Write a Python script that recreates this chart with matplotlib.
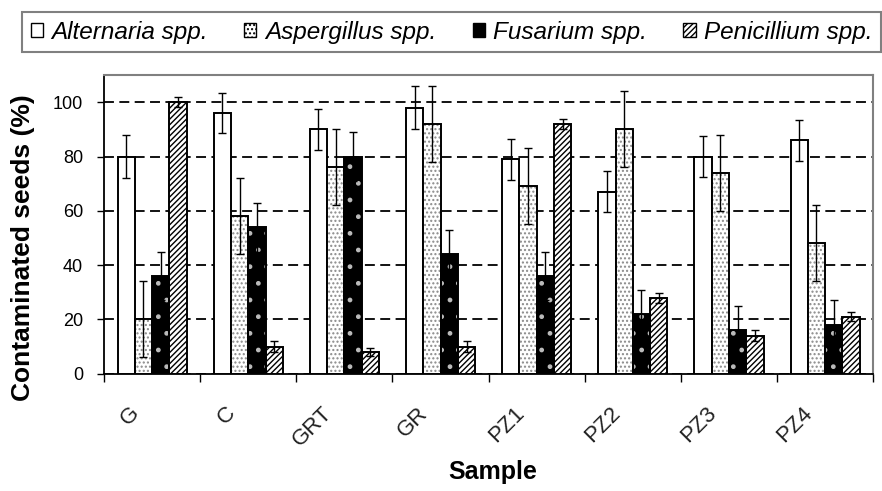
import matplotlib
matplotlib.use("Agg")
import matplotlib.pyplot as plt
import matplotlib.transforms as mtransforms
import numpy as np
from matplotlib.patches import Patch

samples = ["G", "C", "GRT", "GR", "PZ1", "PZ2", "PZ3", "PZ4"]
series = ["Alternaria spp.", "Aspergillus spp.", "Fusarium spp.", "Penicillium spp."]

alternaria = [80, 96, 90, 98, 79, 67, 80, 86]
alternaria_err = [8, 7.5, 7.5, 8, 7.5, 7.5, 7.5, 7.5]
aspergillus = [20, 58, 76, 92, 69, 90, 74, 48]
aspergillus_err = [14, 14, 14, 14, 14, 14, 14, 14]
fusarium = [36, 54, 80, 44, 36, 22, 16, 18]
fusarium_err = [9, 9, 9, 9, 9, 9, 9, 9]
penicillium = [100, 10, 8, 10, 92, 28, 14, 21]
penicillium_err = [1.8, 2, 1.6, 2, 1.8, 1.8, 2, 1.6]

values = [alternaria, aspergillus, fusarium, penicillium]
errors = [alternaria_err, aspergillus_err, fusarium_err, penicillium_err]
faces = ["white", "white", "black", "white"]
hatches = [None, "....", ".", "//////"]
hatch_cols = [None, "#8a8a8a", "#bbbbbb", "black"]

plt.rcParams['font.family'] = ['Liberation Sans', 'DejaVu Sans']
plt.rcParams['hatch.linewidth'] = 1.0

fig = plt.figure(figsize=(8.82, 4.91), dpi=100)
ax = fig.add_axes([0.118, 0.239, 0.872, 0.608])

x = np.arange(len(samples))
w = 0.18
offsets = (np.arange(4) - 1.5) * w

for i in range(4):
    pos = x + offsets[i]
    if hatches[i]:
        ax.bar(pos, values[i], w, color=faces[i], edgecolor=hatch_cols[i],
               hatch=hatches[i], linewidth=0, zorder=3)
        ax.bar(pos, values[i], w, color="none", edgecolor="black",
               linewidth=1.4, zorder=4)
    else:
        ax.bar(pos, values[i], w, color=faces[i], edgecolor="black",
               linewidth=1.4, zorder=3)
    ax.errorbar(pos, values[i], yerr=errors[i], fmt="none", ecolor="black",
                elinewidth=1.0, capsize=3.2, capthick=1.0, zorder=5)

ax.set_xlim(-0.5, len(samples) - 0.5)
ax.set_ylim(0, 110)
ax.set_yticks([0, 20, 40, 60, 80, 100])
ax.yaxis.grid(True, linestyle=(0, (5.5, 3)), color="black", linewidth=1.3, zorder=0)
ax.set_axisbelow(True)

ax.set_xticks(np.arange(len(samples) + 1) - 0.5)
ax.set_xticklabels([])
ax.set_xticks(x, minor=True)
ax.set_xticklabels(samples, minor=True, rotation=45, ha="right", va="top",
                   rotation_mode="anchor", fontsize=16, color="#222222")
ax.tick_params(axis="x", which="minor", length=0, pad=21)
ax.tick_params(axis="x", which="major", length=6, width=1, direction="out")
ax.tick_params(axis="y", length=5, width=1, labelsize=13, pad=10)
shift = mtransforms.ScaledTranslation(-23 / 100, 0, fig.dpi_scale_trans)
for lab in ax.xaxis.get_minorticklabels():
    lab.set_transform(lab.get_transform() + shift)

for s in ["top", "right"]:
    ax.spines[s].set_color("#808080")
    ax.spines[s].set_linewidth(1.5)
for s in ["left", "bottom"]:
    ax.spines[s].set_color("black")
    ax.spines[s].set_linewidth(1.3)

fig.text(0.026, 0.496, "Contaminated seeds (%)", rotation=90, ha="center", va="center",
         fontsize=19, fontweight="bold")
fig.text(0.559, 0.024, "Sample", ha="center", va="baseline", fontsize=18, fontweight="bold")

handles = []
for i in range(4):
    handles.append(Patch(facecolor=faces[i], edgecolor="black", hatch=hatches[i], linewidth=1))
leg = fig.legend(handles, series, loc="upper center", bbox_to_anchor=(0.512, 0.975),
                 ncol=4, frameon=True, fancybox=False, edgecolor="#606060",
                 prop={"style": "italic", "size": 17.5}, handlelength=0.5,
                 handleheight=0.5, handletextpad=0.35, columnspacing=1.5,
                 borderpad=0.35, borderaxespad=0)
leg.get_frame().set_linewidth(1.5)

fig.savefig("out.png", dpi=100)
